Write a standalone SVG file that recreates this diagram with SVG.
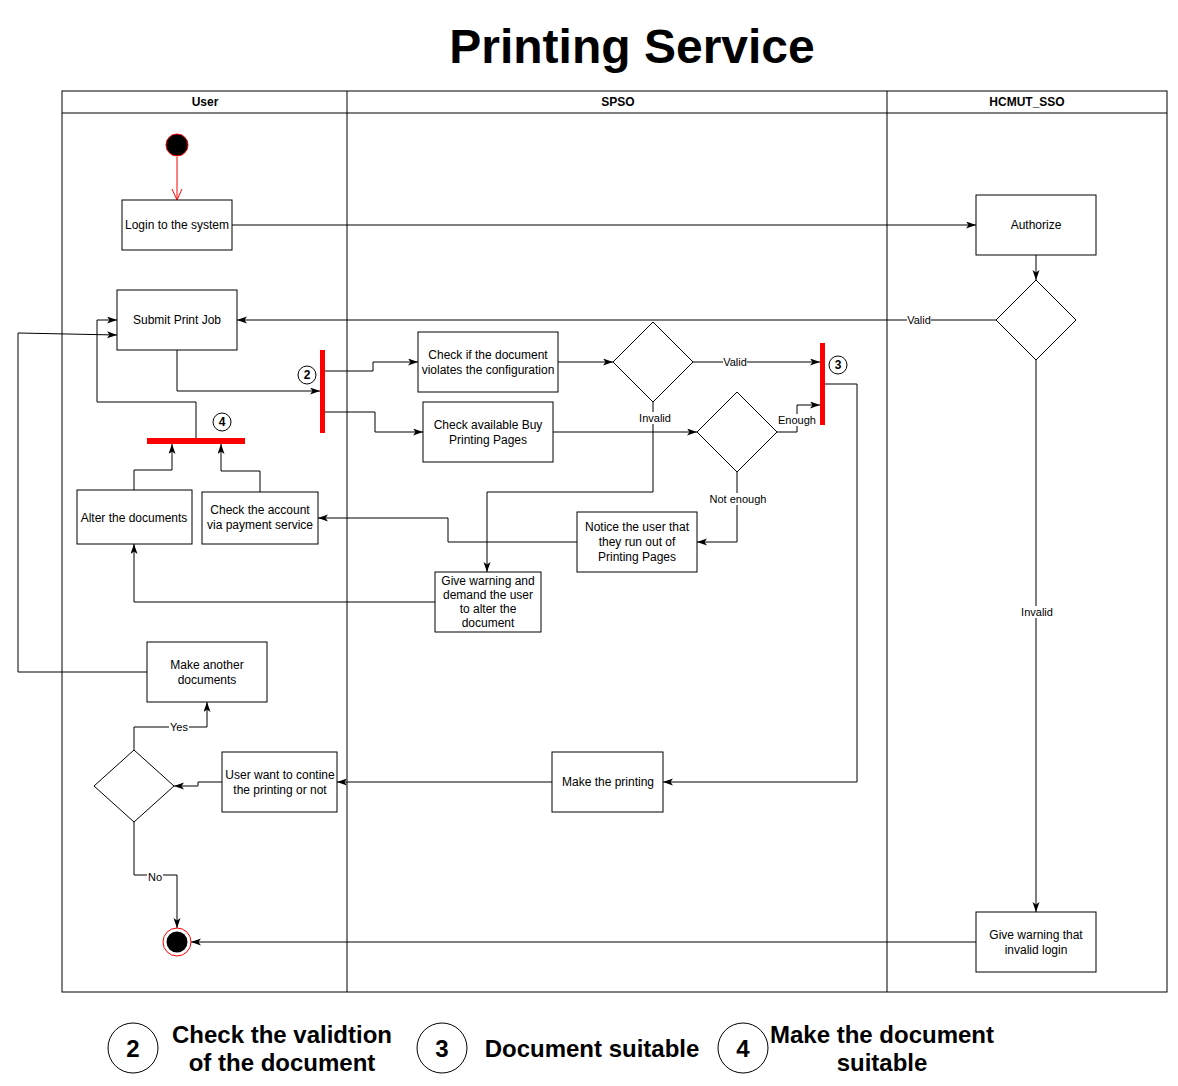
<svg xmlns="http://www.w3.org/2000/svg" width="1178" height="1086" viewBox="0 0 1178 1086">
<style>
.box{fill:#fff;stroke:#000;stroke-width:1}
.dia{fill:#fff;stroke:#000;stroke-width:1}
.t{font-family:"Liberation Sans",Arial,sans-serif;font-size:12px;fill:#000;text-anchor:middle;dominant-baseline:central}
.lb{font-family:"Liberation Sans",Arial,sans-serif;font-size:11px;fill:#000;text-anchor:middle;dominant-baseline:central}
.hd{font-family:"Liberation Sans",Arial,sans-serif;font-size:12px;font-weight:bold;fill:#000;text-anchor:middle;dominant-baseline:central}
.lg{font-family:"Liberation Sans",Arial,sans-serif;font-size:24px;font-weight:bold;fill:#000;text-anchor:middle;dominant-baseline:central}
.num{font-family:"Liberation Sans",Arial,sans-serif;font-size:12px;font-weight:bold;fill:#000;text-anchor:middle;dominant-baseline:central}
.bar{fill:#f00;stroke:none}
.e{fill:none;stroke:#000;stroke-width:1}
.lbg{fill:#fff;stroke:none}
</style>
<defs>
<marker id="arr" markerUnits="userSpaceOnUse" markerWidth="11" markerHeight="8" refX="10" refY="3.5" orient="auto">
<path d="M0,0 L10,3.5 L0,7 L2.5,3.5 Z" fill="#000"/>
</marker>
</defs>
<rect width="1178" height="1086" fill="#fff"/>
<text x="632" y="46" class="hd" style="font-size:48px">Printing Service</text>

<g id="pool">
<rect x="62" y="91" width="1105" height="901" fill="none" stroke="#000"/>
<line x1="62" y1="113" x2="1167" y2="113" stroke="#000"/>
<line x1="347" y1="91" x2="347" y2="992" stroke="#000"/>
<line x1="887" y1="91" x2="887" y2="992" stroke="#000"/>
<text x="205" y="102" class="hd">User</text>
<text x="618" y="102" class="hd">SPSO</text>
<text x="1027" y="102" class="hd">HCMUT_SSO</text>
</g>

<g id="connectors">
<line x1="177" y1="157" x2="177" y2="199" stroke="#f00"/>
<polyline points="172,189 177,200 182,189" fill="none" stroke="#f00"/>
<polyline class="e" points="232,225 976,225" marker-end="url(#arr)"/>
<polyline class="e" points="1036,255 1036,280" marker-end="url(#arr)"/>
<polyline class="e" points="996,320 237,320" marker-end="url(#arr)"/>
<polyline class="e" points="1036,360 1036,912" marker-end="url(#arr)"/>
<polyline class="e" points="976,942 191,942" marker-end="url(#arr)"/>
<polyline class="e" points="177,350 177,391 320,391" marker-end="url(#arr)"/>
<polyline class="e" points="325,371 373,371 373,362 418,362" marker-end="url(#arr)"/>
<polyline class="e" points="325,412 375,412 375,432 423,432" marker-end="url(#arr)"/>
<polyline class="e" points="558,362 613,362" marker-end="url(#arr)"/>
<polyline class="e" points="693,362 820,362" marker-end="url(#arr)"/>
<polyline class="e" points="653,402 653,492 487,492 487,572" marker-end="url(#arr)"/>
<polyline class="e" points="553,432 697,432" marker-end="url(#arr)"/>
<polyline class="e" points="777,432 797,432 797,405 820,405" marker-end="url(#arr)"/>
<polyline class="e" points="737,472 737,542 697,542" marker-end="url(#arr)"/>
<polyline class="e" points="577,542 448,542 448,518 318,518" marker-end="url(#arr)"/>
<polyline class="e" points="435,602 134,602 134,544" marker-end="url(#arr)"/>
<polyline class="e" points="134,490 134,470 172,470 172,444" marker-end="url(#arr)"/>
<polyline class="e" points="260,492 260,471 221,471 221,444" marker-end="url(#arr)"/>
<polyline class="e" points="196,438 196,402 97,402 97,320 117,320" marker-end="url(#arr)"/>
<polyline class="e" points="147,672 18,672 18,333 117,335" marker-end="url(#arr)"/>
<polyline class="e" points="825,384 857,384 857,782 663,782" marker-end="url(#arr)"/>
<polyline class="e" points="552,782 337,782" marker-end="url(#arr)"/>
<polyline class="e" points="222,782 198,782 198,786 174,786" marker-end="url(#arr)"/>
<polyline class="e" points="134,750 134,727 207,727 207,702" marker-end="url(#arr)"/>
<polyline class="e" points="134,822 134,875 177,875 177,928" marker-end="url(#arr)"/>
</g>

<g id="edge-labels">
<rect class="lbg" x="907" y="314" width="24" height="12"/><text x="919" y="320" class="lb">Valid</text>
<rect class="lbg" x="723" y="356" width="24" height="12"/><text x="735" y="362" class="lb">Valid</text>
<rect class="lbg" x="639" y="412" width="32" height="12"/><text x="655" y="418" class="lb">Invalid</text>
<rect class="lbg" x="778" y="414" width="38" height="12"/><text x="797" y="420" class="lb">Enough</text>
<rect class="lbg" x="710" y="493" width="56" height="12"/><text x="738" y="499" class="lb">Not enough</text>
<rect class="lbg" x="1021" y="606" width="32" height="12"/><text x="1037" y="612" class="lb">Invalid</text>
<rect class="lbg" x="169" y="721" width="20" height="12"/><text x="179" y="727" class="lb">Yes</text>
<rect class="lbg" x="147" y="871" width="16" height="12"/><text x="155" y="877" class="lb">No</text>
</g>

<g id="start"><circle cx="177" cy="145" r="11" fill="#000" stroke="#f00"/></g>
<g id="end"><circle cx="177" cy="942" r="14" fill="#fff" stroke="#f00"/><circle cx="177" cy="942" r="10.5" fill="#000"/></g>

<g id="login"><rect class="box" x="122" y="200" width="110" height="50"/><text x="177" y="225" class="t">Login to the system</text></g>
<g id="authorize"><rect class="box" x="976" y="195" width="120" height="60"/><text x="1036" y="225" class="t">Authorize</text></g>
<g id="auth-decision"><polygon class="dia" points="1036,280 1076,320 1036,360 996,320"/></g>
<g id="invalid-login"><rect class="box" x="976" y="912" width="120" height="60"/><text x="1036" y="935" class="t">Give warning that</text><text x="1036" y="950" class="t">invalid login</text></g>
<g id="submit"><rect class="box" x="117" y="290" width="120" height="60"/><text x="177" y="320" class="t">Submit Print Job</text></g>
<g id="fork2"><rect class="bar" x="320" y="350" width="5" height="83"/><circle cx="307" cy="375" r="9" fill="#fff" stroke="#000"/><text x="307" y="375" class="num">2</text></g>
<g id="check-doc"><rect class="box" x="418" y="332" width="140" height="60"/><text x="488" y="355" class="t">Check if the document</text><text x="488" y="370" class="t">violates the configuration</text></g>
<g id="check-pages"><rect class="box" x="423" y="402" width="130" height="60"/><text x="488" y="425" class="t">Check available Buy</text><text x="488" y="440" class="t">Printing Pages</text></g>
<g id="doc-decision"><polygon class="dia" points="653,322 693,362 653,402 613,362"/></g>
<g id="pages-decision"><polygon class="dia" points="737,392 777,432 737,472 697,432"/></g>
<g id="join3"><rect class="bar" x="820" y="343" width="5" height="82"/><circle cx="838" cy="365" r="9" fill="#fff" stroke="#000"/><text x="838" y="365" class="num">3</text></g>
<g id="notice"><rect class="box" x="577" y="512" width="120" height="60"/><text x="637" y="527" class="t">Notice the user that</text><text x="637" y="542" class="t">they run out of</text><text x="637" y="557" class="t">Printing Pages</text></g>
<g id="warning"><rect class="box" x="435" y="572" width="106" height="60"/><text x="488" y="581" class="t">Give warning and</text><text x="488" y="595" class="t">demand the user</text><text x="488" y="609" class="t">to alter the</text><text x="488" y="623" class="t">document</text></g>
<g id="check-account"><rect class="box" x="202" y="492" width="116" height="52"/><text x="260" y="510" class="t">Check the account</text><text x="260" y="525" class="t">via payment service</text></g>
<g id="alter"><rect class="box" x="77" y="490" width="115" height="54"/><text x="134" y="518" class="t">Alter the documents</text></g>
<g id="join4"><rect class="bar" x="147" y="438" width="98" height="6"/><circle cx="222" cy="422" r="9" fill="#fff" stroke="#000"/><text x="222" y="422" class="num">4</text></g>
<g id="make-another"><rect class="box" x="147" y="642" width="120" height="60"/><text x="207" y="665" class="t">Make another</text><text x="207" y="680" class="t">documents</text></g>
<g id="continue-decision"><polygon class="dia" points="134,750 174,786 134,822 94,786"/></g>
<g id="user-want"><rect class="box" x="222" y="752" width="115" height="60"/><text x="280" y="775" class="t">User want to contine</text><text x="280" y="790" class="t">the printing or not</text></g>
<g id="make-printing"><rect class="box" x="552" y="752" width="111" height="60"/><text x="608" y="782" class="t">Make the printing</text></g>

<g id="legend">
<circle cx="133" cy="1048" r="25" fill="#fff" stroke="#000"/><text x="133" y="1048" class="lg">2</text>
<text x="282" y="1034" class="lg">Check the validtion</text><text x="282" y="1062" class="lg">of the document</text>
<circle cx="442" cy="1048" r="25" fill="#fff" stroke="#000"/><text x="442" y="1048" class="lg">3</text>
<text x="592" y="1048" class="lg">Document suitable</text>
<circle cx="743" cy="1048" r="25" fill="#fff" stroke="#000"/><text x="743" y="1048" class="lg">4</text>
<text x="882" y="1034" class="lg">Make the document</text><text x="882" y="1062" class="lg">suitable</text>
</g>
</svg>
